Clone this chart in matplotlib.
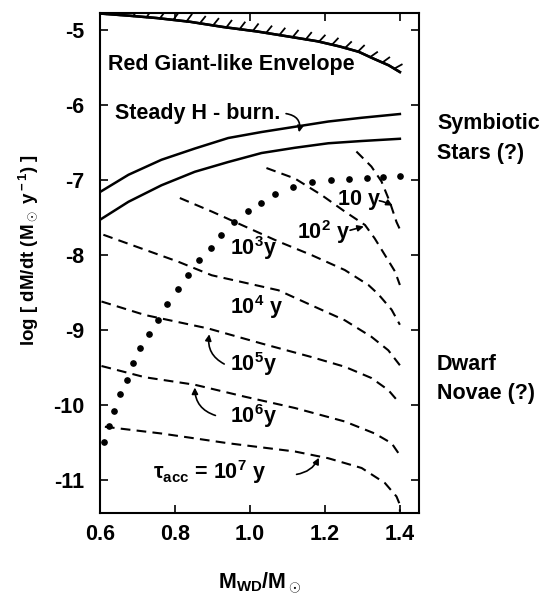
import numpy as np
import matplotlib
matplotlib.use("Agg")
import matplotlib.pyplot as plt
import matplotlib.patheffects as pe

plt.rcParams["font.family"] = ["Liberation Sans", "DejaVu Sans"]
plt.rcParams["font.weight"] = "bold"
plt.rcParams["axes.labelweight"] = "bold"
plt.rcParams["mathtext.fontset"] = "custom"
plt.rcParams["mathtext.rm"] = "Liberation Sans:bold"
plt.rcParams["mathtext.it"] = "Liberation Sans:bold"
plt.rcParams["mathtext.bf"] = "Liberation Sans:bold"
plt.rcParams["axes.unicode_minus"] = False
plt.rcParams["lines.scale_dashes"] = False

# envelope boundary (hatched)
env_x = [0.60, 0.68, 0.751, 0.84, 0.929, 1.02, 1.107, 1.18, 1.240, 1.29, 1.329, 1.37, 1.40]
env_y = [-4.78, -4.81, -4.84, -4.89, -4.96, -5.02, -5.09, -5.15, -5.22, -5.29, -5.38, -5.47, -5.56]

# steady H-burning band
hb_up_x = [0.60, 0.676, 0.764, 0.853, 0.942, 1.031, 1.12, 1.209, 1.298, 1.40]
hb_up_y = [-7.16, -6.93, -6.73, -6.58, -6.44, -6.36, -6.29, -6.22, -6.17, -6.12]
hb_lo_x = [0.60, 0.676, 0.764, 0.853, 0.942, 1.031, 1.12, 1.209, 1.298, 1.40]
hb_lo_y = [-7.53, -7.29, -7.07, -6.89, -6.76, -6.64, -6.57, -6.51, -6.48, -6.45]

# accretion timescale curves
tau_curves = {
    "1e7": ([0.613, 0.764, 0.942, 1.12, 1.209, 1.298, 1.36, 1.391, 1.40, 1.40],
            [-10.29, -10.38, -10.51, -10.62, -10.71, -10.84, -11.04, -11.22, -11.33, -11.42]),
    "1e6": ([0.604, 0.72, 0.853, 0.987, 1.12, 1.253, 1.333, 1.378, 1.40],
            [-9.48, -9.63, -9.73, -9.89, -10.04, -10.22, -10.38, -10.51, -10.67]),
    "1e5": ([0.604, 0.72, 0.889, 1.031, 1.164, 1.253, 1.324, 1.369, 1.40],
            [-8.62, -8.80, -8.98, -9.18, -9.36, -9.49, -9.64, -9.80, -9.98]),
    "1e4": ([0.609, 0.72, 0.809, 0.898, 0.987, 1.076, 1.164, 1.253, 1.324, 1.369, 1.40],
            [-7.73, -7.93, -8.09, -8.27, -8.37, -8.47, -8.67, -8.87, -9.09, -9.27, -9.47]),
    "1e3": ([0.813, 0.898, 0.987, 1.076, 1.164, 1.253, 1.316, 1.342, 1.378, 1.40],
            [-7.24, -7.42, -7.62, -7.82, -8.00, -8.20, -8.40, -8.52, -8.73, -8.93]),
    "1e2": ([1.044, 1.12, 1.191, 1.253, 1.307, 1.333, 1.36, 1.387, 1.40],
            [-6.84, -6.98, -7.20, -7.42, -7.60, -7.78, -8.00, -8.22, -8.40]),
    "1e1": ([1.284, 1.324, 1.351, 1.373, 1.391, 1.403],
            [-6.62, -6.82, -7.02, -7.29, -7.56, -7.69]),
}

# dotted locus
dot_x = [1.40, 1.356, 1.311, 1.265, 1.215, 1.166, 1.114, 1.068, 1.029, 0.994,
         0.957, 0.923, 0.895, 0.864, 0.834, 0.808, 0.780, 0.754, 0.730, 0.708,
         0.689, 0.671, 0.654, 0.638, 0.624, 0.611]
dot_y = [-6.95, -6.96, -6.97, -6.99, -7.00, -7.02, -7.09, -7.19, -7.30, -7.41,
         -7.56, -7.73, -7.90, -8.07, -8.27, -8.45, -8.65, -8.87, -9.05, -9.24,
         -9.44, -9.66, -9.85, -10.08, -10.28, -10.49]

xticks = [0.6, 0.8, 1.0, 1.2, 1.4]
yticks = [-5, -6, -7, -8, -9, -10, -11]

fig = plt.figure(figsize=(5.4, 5.99), dpi=100)
ax = fig.add_axes([100 / 540, 1 - 513 / 599, 319 / 540, 500 / 599])
ax.set_xlim(0.6, 1.451)
ax.set_ylim(-11.44, -4.773)

ax.plot(env_x, env_y, color="black", lw=1.8,
        path_effects=[pe.Stroke(linewidth=1.8, foreground="black"),
                      pe.withTickedStroke(spacing=9.4, angle=60, length=0.65,
                                          linewidth=1.3)])
ax.plot(hb_up_x, hb_up_y, color="black", lw=1.8)
ax.plot(hb_lo_x, hb_lo_y, color="black", lw=1.8)
for key, (xs, ys) in tau_curves.items():
    ax.plot(xs, ys, color="black", lw=1.5, linestyle=(0, (7, 4.5)))
ax.plot(dot_x, dot_y, linestyle="none", marker="o", ms=3.8, color="black")

fs = 15.5
ax.text(0.621, -5.53, "Red Giant-like Envelope", fontsize=fs, va="baseline")
ax.text(0.64, -6.18, "Steady H - burn.", fontsize=fs, va="baseline")
ax.text(1.236, -7.33, "10 y", fontsize=fs, va="baseline")
ax.text(1.125, -7.78, "10$^2$ y", fontsize=fs, va="baseline")
ax.text(0.947, -8.00, "10$^3$y", fontsize=fs, va="baseline")
ax.text(0.947, -8.79, "10$^4$ y", fontsize=fs, va="baseline")
ax.text(0.947, -9.54, "10$^5$y", fontsize=fs, va="baseline")
ax.text(0.947, -10.24, "10$^6$y", fontsize=fs, va="baseline")
ax.text(0.741, -10.98, "τ$_{\\rm acc}$ = 10$^7$ y", fontsize=fs, va="baseline")

arrows = [
    ((1.089, -6.11), (1.129, -6.40), -0.6),
    ((1.338, -7.27), (1.387, -7.36), -0.1),
    ((1.26, -7.68), (1.311, -7.61), 0.0),
    ((0.938, -9.47), (0.893, -9.02), -0.4),
    ((0.915, -10.15), (0.853, -9.73), -0.4),
    ((1.117, -10.93), (1.187, -10.67), 0.3),
]
for tail, head, rad in arrows:
    ax.annotate("", xy=head, xytext=tail,
                arrowprops=dict(arrowstyle="-|>", color="black", lw=1.2,
                                mutation_scale=9,
                                connectionstyle=f"arc3,rad={rad}"))

ax.set_xticks(xticks)
ax.set_xticklabels([f"{v:.1f}" for v in xticks])
ax.set_yticks(yticks)
ax.set_yticklabels([str(v) for v in yticks])
ax.tick_params(direction="in", length=6, width=1.2, top=True, right=True,
               labelsize=fs)
ax.tick_params(axis="x", pad=8)
ax.tick_params(axis="y", pad=11)
for s in ax.spines.values():
    s.set_linewidth(1.5)

ax.set_xlabel("M$_{\\rm WD}$/M$_\\odot$", fontsize=fs, labelpad=18)
fig.text(28 / 540, 1 - 250 / 599, "log [ dM/dt (M$_\\odot$ y$^{\\rm -1}$) ]",
         fontsize=13.5, rotation=90, ha="center", va="center")

fig.text(437 / 540, 1 - 123 / 599, "Symbiotic", fontsize=fs, va="center")
fig.text(437 / 540, 1 - 153 / 599, "Stars (?)", fontsize=fs, va="center")
fig.text(437 / 540, 1 - 365 / 599, "Dwarf", fontsize=fs, va="center")
fig.text(437 / 540, 1 - 393 / 599, "Novae (?)", fontsize=fs, va="center")

fig.savefig("out.png", dpi=100)
